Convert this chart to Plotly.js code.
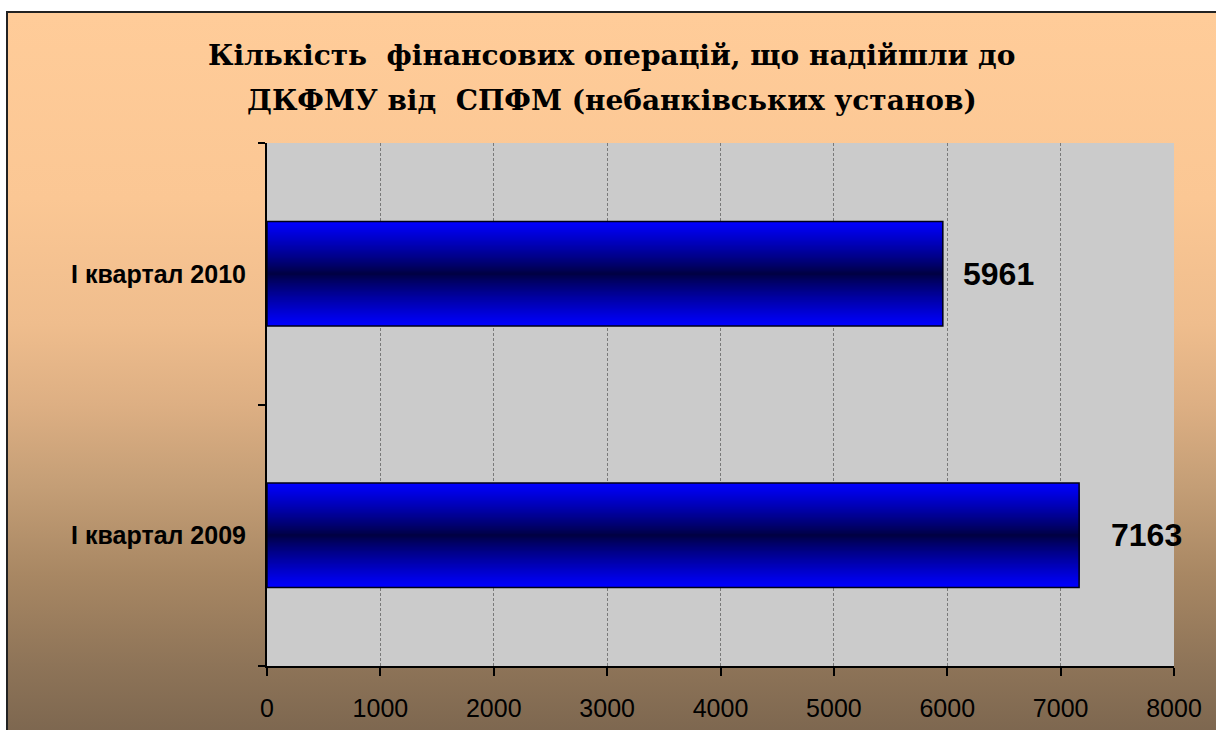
<!DOCTYPE html>
<html><head><meta charset="utf-8">
<script src="https://cdn.plot.ly/plotly-3.0.1.min.js"></script>
<style>
html,body{margin:0;padding:0;background:#fff;overflow:hidden;width:1216px;height:730px}
#bg{position:absolute;left:6px;top:11px;width:1230px;height:740px;border-left:2px solid #222;border-top:2px solid #222;
background:linear-gradient(to bottom,#ffcc99 0%,#fbc794 25%,#efbd8d 42%,#ddaf83 53%,#c49e76 64%,#a88763 76%,#8e7458 88%,#78634d 100%);}
#chart{position:absolute;left:0;top:0;width:1216px;height:730px}
</style></head>
<body><div id="bg"></div><div id="chart"></div>
<script>
const categories = ['І квартал 2009', 'І квартал 2010'];
const values = [7163, 5961];
const xTickValues = [0, 1000, 2000, 3000, 4000, 5000, 6000, 7000, 8000];
const titleLine1 = 'Кількість  фінансових операцій, що надійшли до';
const titleLine2 = 'ДКФМУ від  СПФМ (небанківських установ)';
const labelShift = [30, 18];

const BAR_W = 0.4, N = 40;
const traces = [];
for (let k = 0; k < N; k++) {
  const t = 1 - k / N;
  const b = Math.round(60 + 195 * Math.pow(t, 0.85));
  const w = BAR_W * t;
  traces.push({
    type: 'bar', orientation: 'h', y: categories, x: values,
    width: w, offset: -w / 2,
    marker: {color: 'rgb(0,0,' + b + ')', line: {width: 0}},
    hoverinfo: 'skip', showlegend: false
  });
}
traces.push({
  type: 'bar', orientation: 'h', y: categories, x: values,
  width: BAR_W, offset: -BAR_W / 2,
  marker: {color: 'rgba(0,0,0,0)', line: {color: '#000018', width: 1.5}},
  hoverinfo: 'skip', showlegend: false
});

const annotations = values.map((v, i) => ({
  x: v, y: categories[i], xref: 'x', yref: 'y', text: String(v),
  xanchor: 'left', yanchor: 'middle', xshift: labelShift[i], showarrow: false,
  font: {family: 'Liberation Sans, Arial, sans-serif', size: 32, color: '#000', weight: 'bold'}
}));
annotations.push({
  xref: 'paper', yref: 'paper', x: 0.3804, y: 1.0822, xanchor: 'center', yanchor: 'middle',
  text: titleLine2, showarrow: false,
  font: {family: 'DejaVu Serif, Liberation Serif, serif', size: 28, color: '#000', weight: 'bold'}
});

const layout = {
  width: 1216, height: 730,
  paper_bgcolor: 'rgba(0,0,0,0)', plot_bgcolor: '#cbcbcb',
  margin: {l: 267, r: 42, t: 143, b: 64, pad: 0},
  barmode: 'overlay',
  title: {text: titleLine1, x: 0.503, xanchor: 'center', y: 0.9247, yanchor: 'middle', yref: 'container',
    font: {family: 'DejaVu Serif, Liberation Serif, serif', size: 28, color: '#000', weight: 'bold'}},
  xaxis: {
    range: [0, 8000], tickvals: xTickValues, ticktext: xTickValues.map(String),
    showgrid: true, gridcolor: '#7a7a7a', gridwidth: 1, griddash: '3px,2px',
    showline: true, linecolor: '#000', linewidth: 2, zeroline: false,
    ticks: 'outside', ticklen: 8, tickcolor: '#000', tickwidth: 2,
    ticklabelstandoff: 11,
    tickfont: {family: 'Liberation Sans, Arial, sans-serif', size: 25, color: '#000'},
    fixedrange: true
  },
  yaxis: {
    type: 'category', categoryorder: 'array', categoryarray: categories, range: [-0.5, 1.5],
    showgrid: false, showline: true, linecolor: '#000', linewidth: 2, zeroline: false,
    ticks: 'outside', tickson: 'boundaries', ticklen: 7, tickcolor: '#000', tickwidth: 2,
    ticklabelstandoff: 14,
    tickfont: {family: 'Liberation Sans, Arial, sans-serif', size: 25, color: '#000', weight: 'bold'},
    fixedrange: true
  },
  annotations: annotations
};

Plotly.newPlot('chart', traces, layout, {displayModeBar: false, staticPlot: true});
</script>
</body></html>
